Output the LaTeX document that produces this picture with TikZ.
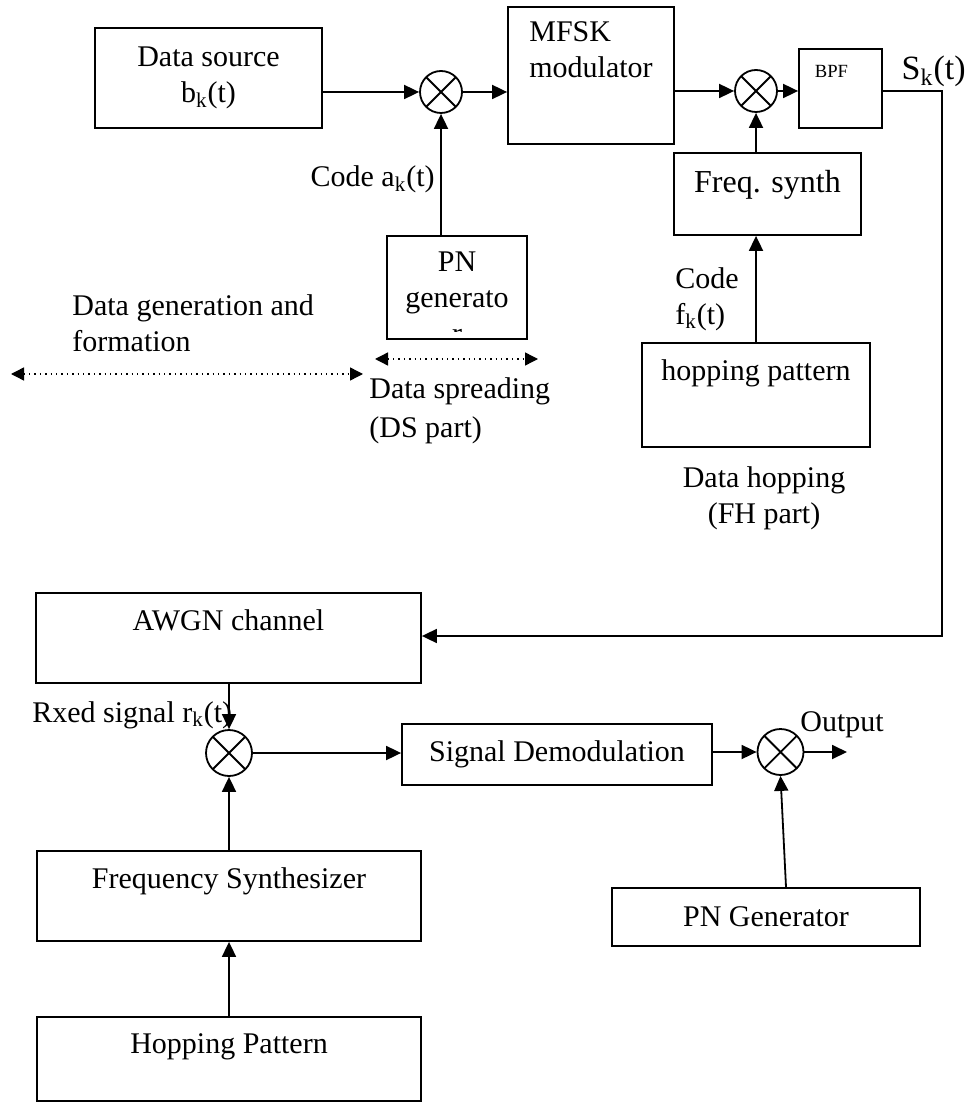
\documentclass[tikz,border=0pt]{standalone}
\usepackage{fontspec}
\setmainfont{Liberation Serif}
\usetikzlibrary{arrows.meta, positioning, calc}

\begin{document}
\begin{tikzpicture}[x=0.5pt, y=-0.5pt, font=\fontsize{15}{18}\selectfont,
    >={Triangle[length=7.5pt, width=7pt]},
    box/.style={draw, line width=0.9pt, inner sep=0pt, align=center},
    toptext/.style={label={[anchor=base, yshift=-19pt]north:#1}},
    mixer/.style={draw, circle, line width=0.9pt, minimum size=#1, inner sep=0pt,
        path picture={\draw[line width=0.9pt] (path picture bounding box.north west) -- (path picture bounding box.south east)
            (path picture bounding box.north east) -- (path picture bounding box.south west);}},
    mixer/.default=21pt,
    sig/.style={->, line width=0.9pt},
    span/.style={{Triangle[length=6.5pt, width=6.5pt]}-{Triangle[length=6.5pt, width=6.5pt]}, dotted, line width=0.7pt}]
    \useasboundingbox (0,0) rectangle (968,1106);

    % transmitter
    \node[box, minimum width=113.5pt, minimum height=50pt] (src) at (208.5,78) {Data source\\b\textsubscript{k}(t)};
    \node[mixer] (m1) at (441,92) {};
    \node[box, minimum width=83pt, minimum height=68.5pt,
        label={[anchor=north, align=left, yshift=-4pt]north:MFSK\\modulator}] (mfsk) at (591,75.5) {};
    \node[mixer] (m2) at (756,91) {};
    \node[box, minimum width=41.5pt, minimum height=39.5pt,
        label={[anchor=base, xshift=-4.5pt, yshift=-14.5pt, font=\fontsize{9.3}{11}\selectfont]north:BPF}] (bpf) at (840.5,88.5) {};
    \node[anchor=base east, inner sep=0pt, font=\fontsize{17}{20}\selectfont] (sk) at (966,80) {S\textsubscript{k}(t)};
    \node[box, minimum width=93.5pt, minimum height=41pt,
        label={[anchor=base, yshift=-20pt, font=\fontsize{16}{19}\selectfont]north:Freq. synth}] (fsyn) at (767.5,194) {};
    \node[box, minimum width=114pt, minimum height=52pt, toptext={hopping pattern}] (hop) at (756,395) {};
    \node[box, minimum width=70pt, minimum height=51.5pt] (pn) at (457,287.5) {};
    \begin{scope}
        \clip (pn.north west) rectangle ([yshift=4pt]pn.south east);
        \node[align=center, inner sep=0pt, anchor=north] (pntxt) at (457,251.5) {PN\\generato\\r};
    \end{scope}

    \node[anchor=base east, inner sep=0pt] (codea) at (435,187) {Code a\textsubscript{k}(t)};
    \node[anchor=north west, align=left, inner sep=0pt] (codef) at (675,267) {Code\\f\textsubscript{k}(t)};
    \node[anchor=north west, align=left, inner sep=0pt] (gentxt) at (72,294) {Data generation and\\formation};
    \node[anchor=north west, align=left, inner sep=0pt] (spreadtxt) at (369,377) {Data spreading\\[1.5pt](DS part)};
    \node[anchor=north, align=center, inner sep=0pt] (hoptxt) at (764,466) {Data hopping\\(FH part)};

    \coordinate (genl) at (11,374);
    \coordinate (genr) at (363,374);
    \coordinate (spl) at (375,359);
    \coordinate (spr) at (538,359);
    \draw[span] (genl) -- (genr);
    \draw[span] (spl) -- (spr);

    \draw[sig] (src.east |- m1) -- (m1);
    \draw[sig] (m1) -- (m1 -| mfsk.west);
    \draw[sig] (pn.north -| m1) -- (m1);
    \draw[sig] (mfsk.east |- m2) -- (m2);
    \draw[sig] (m2) -- (m2 -| bpf.west);
    \draw[sig] (fsyn.north -| m2) -- (m2);
    \draw[sig] (hop.north) -- (hop.north |- fsyn.south);

    % receiver
    \node[box, minimum width=192.5pt, minimum height=45pt, toptext={AWGN channel}] (awgn) at (228.5,638) {};
    \coordinate (turn) at (942,636);
    \draw[sig] (bpf.east |- m2) -| (turn) -- (turn -| awgn.east);

    \node[mixer=23pt] (m3) at (229,753) {};
    \node[anchor=base west, inner sep=0pt] (rxlbl) at (32,722) {Rxed signal r\textsubscript{k}(t)};
    \node[box, minimum width=155pt, minimum height=30.5pt] (demod) at (557,754.5) {Signal Demodulation};
    \node[mixer=23pt] (m4) at (780.5,752) {};
    \coordinate (out) at (847,752);
    \node[anchor=base west, inner sep=0pt] (outlbl) at (800,731) {Output};
    \node[box, minimum width=192pt, minimum height=45pt, toptext={Frequency Synthesizer}] (fsyn2) at (229,896) {};
    \node[box, minimum width=192pt, minimum height=42pt, toptext={Hopping Pattern}, below=37pt of fsyn2] (hpat) {};
    \node[box, minimum width=154pt, minimum height=29pt] (pngen) at (766,917) {PN Generator};

    \draw[sig] (awgn.south -| m3) -- (m3);
    \draw[sig] (fsyn2.north -| m3) -- (m3);
    \draw[sig] (hpat.north) -- (fsyn2.south);
    \draw[sig] (m3) -- (m3 -| demod.west);
    \draw[sig] (demod.east |- m4) -- (m4);
    \draw[sig] (m4) -- (out);
    \draw[sig] ([xshift=10pt]pngen.north) -- (m4.south);
\end{tikzpicture}
\end{document}
